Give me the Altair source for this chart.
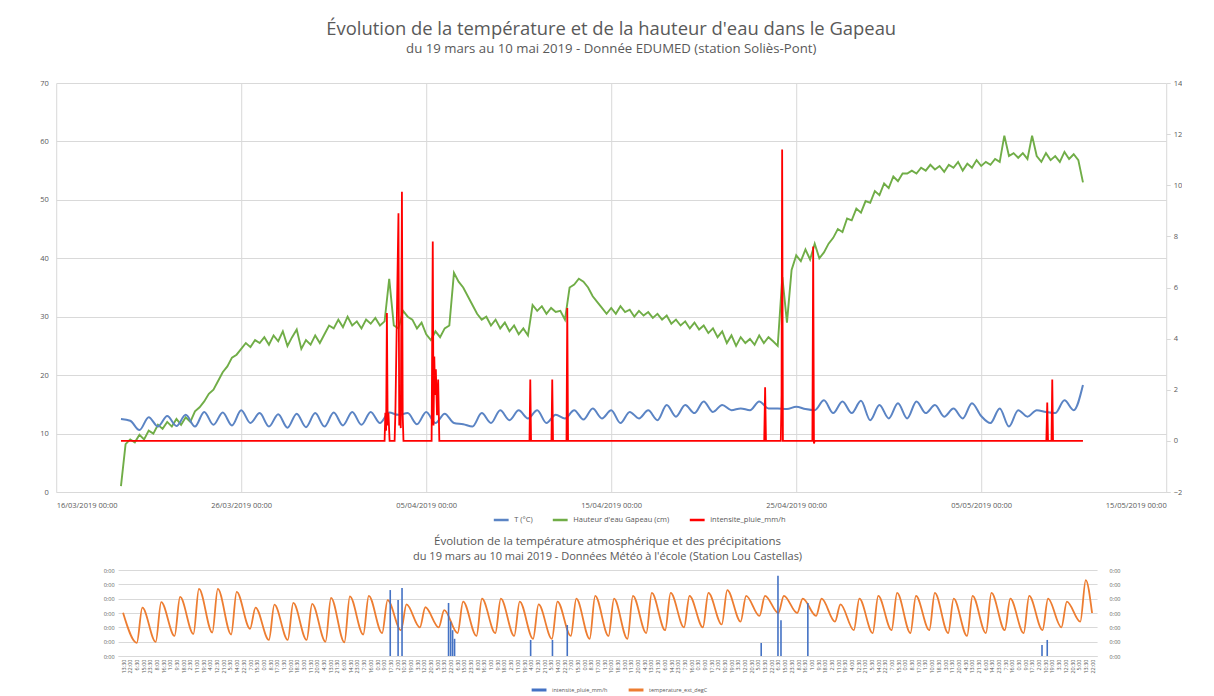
import altair as alt
import pandas as pd

# ------------------------------------------------------------------ texts
TITLE = "Évolution de la température et de la hauteur d'eau dans le Gapeau"
SUBTITLE = "du 19 mars au 10 mai 2019 - Donnée EDUMED (station Soliès-Pont)"
TITLE2 = "Évolution de la température atmosphérique et des précipitations"
SUBTITLE2 = "du 19 mars au 10 mai 2019 - Données Météo à l'école (Station Lou Castellas)"

SER_TOP = ["T (°C)", "Hauteur d'eau Gapeau (cm)", "intensite_pluie_mm/h"]
SER_BOT = ["intensite_pluie_mm/h", "temperature_ext_degC"]

# x ticks of the upper chart (month, day)
X_TICKS = [(3, 16), (3, 26), (4, 5), (4, 15), (4, 25), (5, 5), (5, 15)]
Y_LEFT_TICKS = [0, 10, 20, 30, 40, 50, 60, 70]
Y_RIGHT_TICKS = [-2, 0, 2, 4, 6, 8, 10, 12, 14]

# ------------------------------------------------------------------ upper chart data
# water height (cm), one reading every 6 h from 19/03 12:00
WATER_START = "2019-03-19 12:00"
water = [
    1.0, 8.2,
    9.0, 8.5, 9.8, 9.0,
    10.5, 10.0, 11.5, 10.8,
    12.0, 11.2, 12.5, 11.5,
    12.8, 12.0, 13.8, 14.5,
    15.5, 16.8, 17.5, 19.0,
    20.5, 21.5, 23.0, 23.5,
    24.5, 25.5, 24.8, 26.0,
    25.5, 26.5, 25.2, 26.8,
    25.8, 27.5, 25.0, 26.5,
    27.8, 24.5, 26.0, 25.2,
    26.8, 25.5, 27.0, 28.5,
    28.0, 29.5, 28.2, 30.0,
    28.5, 29.2, 28.0, 29.5,
    28.8, 29.8, 28.5, 29.2,
    36.5, 28.5, 28.0, 31.0,
    30.0, 29.5, 28.0, 29.0,
    27.0, 26.0, 27.5, 26.5,
    28.0, 28.5, 37.5, 36.0,
    35.0, 33.5, 32.0, 30.5,
    29.5, 30.0, 28.5, 29.5,
    28.0, 29.0, 27.5, 28.5,
    27.0, 28.0, 26.8, 32.0,
    31.0, 31.8, 30.5, 31.5,
    30.8, 31.0, 29.5, 35.0,
    35.5, 36.5, 36.0, 35.0,
    33.5, 32.5, 31.5, 30.5,
    31.5, 30.5, 31.8, 30.8,
    31.2, 30.0, 31.0, 30.2,
    30.8, 29.8, 30.5, 29.5,
    30.2, 28.8, 29.5, 28.5,
    29.2, 28.0, 29.0, 27.8,
    28.5, 27.2, 28.0, 26.5,
    27.5, 25.5, 26.8, 25.0,
    26.5, 25.5, 26.2, 25.2,
    26.8, 25.5, 26.5, 25.8,
    25.0, 36.8, 29.0, 38.0,
    40.5, 39.5, 41.5, 39.8,
    42.5, 40.0, 41.0, 42.5,
    43.5, 45.0, 44.5, 46.8,
    46.5, 48.5, 47.8, 49.8,
    49.5, 51.5, 50.8, 52.8,
    52.0, 54.0, 53.2, 54.5,
    54.5, 55.0, 54.5, 55.5,
    55.0, 56.0, 55.2, 55.8,
    54.8, 56.0, 55.5, 56.5,
    55.0, 56.2, 55.5, 56.8,
    55.8, 56.5, 56.0, 57.0,
    56.5, 61.0, 57.5, 58.0,
    57.2, 58.0, 57.0, 61.0,
    57.5, 56.5, 58.0, 56.8,
    57.5, 56.5, 58.2, 57.0,
    57.8, 56.8, 53.0,
]

# water temperature (°C), one reading every 12 h from 19/03 12:00
TEMP_START = "2019-03-19 12:00"
temp = [
    12.5, 12.2, 10.6, 12.8, 11.2, 13.0, 11.3, 13.2, 11.2, 13.7,
    11.5, 13.6, 11.4, 14.0, 11.8, 13.5, 11.2, 13.3, 11.0, 13.4,
    11.1, 13.5, 11.2, 13.6, 11.4, 13.7, 11.5, 13.7, 11.8, 13.6,
    13.2, 13.5, 11.6, 13.7, 11.8, 13.4, 11.8, 11.6, 11.2, 13.5,
    11.8, 14.0, 12.3, 14.0, 12.6, 14.0, 11.8, 13.2, 12.6, 14.0,
    12.4, 14.3, 12.6, 14.0, 11.8, 13.7, 12.6, 14.0, 12.3, 14.9,
    12.9, 14.9, 13.5, 15.5, 13.7, 14.9, 14.0, 14.3, 14.0, 15.5,
    14.3, 14.3, 14.2, 14.6, 14.2, 14.0, 15.7, 13.5, 15.5, 13.5,
    15.6, 12.3, 14.9, 12.6, 15.2, 12.6, 15.5, 13.5, 14.9, 12.9,
    14.3, 12.6, 15.2, 13.0, 11.8, 14.3, 11.2, 14.0, 12.9, 14.0,
    13.7, 13.5, 15.7, 14.0, 18.3,
]

# rain intensity (mm/h)
rain_times = [
    "2019-03-19 12:00",
    "2019-04-02 18:00", "2019-04-02 19:00", "2019-04-02 20:00", "2019-04-02 21:00",
    "2019-04-02 22:00", "2019-04-02 23:00", "2019-04-03 00:30",
    "2019-04-03 07:00", "2019-04-03 08:00", "2019-04-03 12:00", "2019-04-03 13:00",
    "2019-04-03 14:00", "2019-04-03 15:00", "2019-04-03 16:30", "2019-04-03 17:30",
    "2019-04-03 18:30",
    "2019-04-05 07:00", "2019-04-05 08:30", "2019-04-05 09:30", "2019-04-05 10:30",
    "2019-04-05 11:30", "2019-04-05 12:30", "2019-04-05 14:00", "2019-04-05 15:30",
    "2019-04-05 17:00",
    "2019-04-10 14:00", "2019-04-10 15:00", "2019-04-10 16:00",
    "2019-04-11 18:30", "2019-04-11 19:30", "2019-04-11 20:30",
    "2019-04-12 14:00", "2019-04-12 15:00", "2019-04-12 16:00",
    "2019-04-23 06:30", "2019-04-23 07:40", "2019-04-23 08:45",
    "2019-04-24 04:00", "2019-04-24 05:00", "2019-04-24 05:45", "2019-04-24 06:45",
    "2019-04-25 21:00", "2019-04-25 22:00", "2019-04-25 23:00", "2019-04-26 00:00",
    "2019-05-08 12:30", "2019-05-08 13:40", "2019-05-08 14:40",
    "2019-05-08 19:10", "2019-05-08 20:10", "2019-05-08 21:10",
    "2019-05-10 12:00",
]
rain_vals = [
    0,
    0, 1.1, 0.4, 5.0, 0.6, 1.1, 0,
    0, 1.1, 8.9, 0.6, 1.2, 0.5, 9.75, 1.0, 0,
    0, 7.8, 0.6, 3.3, 1.8, 2.8, 1.0, 2.4, 0,
    0, 2.4, 0,
    0, 2.4, 0,
    0, 5.2, 0,
    0, 2.1, 0,
    0, 1.8, 11.4, 0,
    0, 7.6, -0.1, 0,
    0, 1.5, 0,
    0, 2.4, 0,
    0,
]

# ------------------------------------------------------------------ lower chart data
AIR_START = ("2019-03-19 13:30", 15.1)
AIR_END = ("2019-05-09 22:00", 15.0)
AIR_FIRST_DAY = "2019-03-20"
# daily minimum (about 07:00) and maximum (about 14:00), 20/03 -> 09/05
air_min = [
    4.6, 4.9, 7.0, 7.7, 8.2, 7.5, 9.5, 5.6, 5.6, 5.6, 5.0, 4.8,
    7.5, 8.0, 9.0, 10.0, 10.0, 8.0, 7.0, 8.0, 7.0, 6.0, 6.0, 7.0, 6.0, 7.0, 6.0,
    8.0, 9.0, 10.0, 10.0, 11.0, 12.0, 14.0, 15.0, 15.0, 14.0, 12.0, 9.0, 8.0, 9.0, 8.0,
    9.0, 8.0, 7.0, 8.0, 9.0, 8.0, 9.0, 10.0, 12.0,
]
air_max = [
    16.9, 18.8, 20.6, 23.4, 23.4, 22.4, 16.9, 17.9, 18.5, 18.2, 20.3, 20.8,
    21.0, 19.5, 18.0, 17.0, 16.0, 19.0, 20.0, 20.0, 19.0, 18.0, 19.0, 20.0, 21.0, 20.0, 21.0,
    22.0, 22.0, 21.0, 22.0, 23.0, 21.0, 21.0, 21.0, 20.0, 20.0, 18.0, 20.0, 21.0, 22.0, 21.0,
    22.0, 20.0, 21.0, 22.0, 20.0, 21.0, 20.0, 19.0, 26.5,
]
bar_times = [
    "2019-04-02 17:20", "2019-04-03 03:20", "2019-04-03 08:20",
    "2019-04-05 19:30", "2019-04-05 22:10", "2019-04-06 00:40", "2019-04-06 03:10",
    "2019-04-10 03:55", "2019-04-11 07:40", "2019-04-12 02:30",
    "2019-04-22 09:10", "2019-04-23 06:30", "2019-04-23 10:20", "2019-04-24 20:30",
    "2019-05-07 06:20", "2019-05-07 13:00",
]
bar_vals = [23, 19.5, 23.7, 18.5, 12, 9, 6, 5.6, 5.6, 10.8, 4.5, 28, 12.5, 18.5, 3.8, 5.6]
BOT_TICK_STEP = "510min"

# ------------------------------------------------------------------ styling
GRID = "#d9d9d9"
LAB = "#595959"
FONT = "Open Sans"
C_TEMP, C_WATER, C_RAIN = "#5b84c4", "#70ad47", "#ff0000"
C_BAR, C_AIR = "#4472c4", "#ed7d31"


def iso(ts):
    return pd.Timestamp(ts).strftime("%Y-%m-%dT%H:%M:%S")


def dt(ts):
    t = pd.Timestamp(ts)
    return alt.DateTime(year=t.year, month=t.month, date=t.day, hours=t.hour, minutes=t.minute)


# ------------------------------------------------------------------ frames
wt = pd.date_range(WATER_START, periods=len(water), freq="6h")
df_water = pd.DataFrame({"t": [iso(x) for x in wt], "v": water, "s": SER_TOP[1]})
tt = pd.date_range(TEMP_START, periods=len(temp), freq="12h")
df_temp = pd.DataFrame({"t": [iso(x) for x in tt], "v": temp, "s": SER_TOP[0]})
df_rain = pd.DataFrame({"t": [iso(x) for x in rain_times], "v": rain_vals, "s": SER_TOP[2]})

air_t, air_v = [iso(AIR_START[0])], [AIR_START[1]]
for i, d in enumerate(pd.date_range(AIR_FIRST_DAY, periods=len(air_min), freq="D")):
    air_t += [iso(d + pd.Timedelta(hours=7)), iso(d + pd.Timedelta(hours=14))]
    air_v += [air_min[i], air_max[i]]
air_t.append(iso(AIR_END[0]))
air_v.append(AIR_END[1])
df_air = pd.DataFrame({"t": air_t, "v": air_v, "s": SER_BOT[1]})
df_bar = pd.DataFrame({"t": [iso(x) for x in bar_times], "v": bar_vals, "s": SER_BOT[0]})

# ------------------------------------------------------------------ upper chart
x_top = alt.X(
    "t:T", title=None,
    scale=alt.Scale(domain=[dt("2019-03-16"), dt("2019-05-15")]),
    axis=alt.Axis(values=[alt.DateTime(year=2019, month=m, date=d) for m, d in X_TICKS],
                  format="%d/%m/%Y %H:%M", grid=True, gridColor=GRID, domainColor=GRID,
                  ticks=False, labelFontSize=7.5, labelColor=LAB, labelPadding=9,
                  labelOverlap=False),
)
y_left = alt.Y(
    "v:Q", title=None, scale=alt.Scale(domain=[0, 70], nice=False),
    axis=alt.Axis(values=Y_LEFT_TICKS, grid=True, gridColor=GRID, domain=False, ticks=False,
                  labelFontSize=7.5, labelColor=LAB, labelPadding=8),
)
y_right = alt.Y(
    "v:Q", title=None, scale=alt.Scale(domain=[-2, 14], nice=False),
    axis=alt.Axis(orient="right", values=Y_RIGHT_TICKS, grid=False, domain=False, ticks=True,
                  tickColor=GRID, tickSize=4, labelFontSize=7.5, labelColor=LAB, labelPadding=3),
)
color_top = alt.Color(
    "s:N",
    scale=alt.Scale(domain=SER_TOP, range=[C_TEMP, C_WATER, C_RAIN]),
    legend=alt.Legend(title=None, orient="none", legendX=436, legendY=428, direction="horizontal",
                      symbolType="stroke", symbolStrokeWidth=2.5, symbolSize=220,
                      labelFontSize=7.5, labelColor=LAB, columnPadding=14, labelLimit=300),
)

water_line = alt.Chart(df_water).mark_line(strokeWidth=1.9).encode(x=x_top, y=y_left, color=color_top)
temp_line = alt.Chart(df_temp).mark_line(strokeWidth=2, interpolate="monotone").encode(
    x=x_top, y=y_left, color=color_top)
rain_line = alt.Chart(df_rain).mark_line(strokeWidth=1.8).encode(x=x_top, y=y_right, color=color_top)

top = alt.layer(alt.layer(water_line, temp_line), rain_line).resolve_scale(y="independent").properties(
    width=1110, height=409,
    title=alt.TitleParams(text=TITLE, subtitle=SUBTITLE, fontSize=18.4, subtitleFontSize=13.2,
                          font=FONT, subtitleFont=FONT, fontWeight="normal", color=LAB,
                          subtitleColor=LAB, anchor="middle", frame="group", offset=24,
                          subtitlePadding=4),
)

# ------------------------------------------------------------------ lower chart
bot_ticks = pd.date_range(AIR_START[0], AIR_END[0], freq=BOT_TICK_STEP)
x_bot = alt.X(
    "t:T", title=None,
    scale=alt.Scale(domain=[dt(AIR_START[0]), dt(AIR_END[0])]),
    axis=alt.Axis(values=[dt(x) for x in bot_ticks], format="%-H:%M", labelAngle=270,
                  grid=False, domainColor=GRID, ticks=False, labelFontSize=5.5,
                  labelColor=LAB, labelPadding=3, labelOverlap=False),
)
yb_left = alt.Y(
    "v:Q", title=None, scale=alt.Scale(domain=[0, 30], nice=False),
    axis=alt.Axis(values=[0, 5, 10, 15, 20, 25, 30], labelExpr="'0:00'", grid=True, gridColor=GRID,
                  domain=False, ticks=False, labelFontSize=5.5, labelColor=LAB, labelPadding=4),
)
yb_right = alt.Y(
    "v:Q", title=None, scale=alt.Scale(domain=[0, 30], nice=False),
    axis=alt.Axis(orient="right", values=[0, 5, 10, 15, 20, 25, 30], labelExpr="'0:00'", grid=False,
                  domain=False, ticks=False, labelFontSize=5.5, labelColor=LAB, labelPadding=12),
)
color_bot = alt.Color(
    "s:N",
    scale=alt.Scale(domain=SER_BOT, range=[C_BAR, C_AIR]),
    legend=alt.Legend(title=None, orient="none", legendX=412, legendY=111, direction="horizontal",
                      symbolType="stroke", symbolStrokeWidth=3, symbolSize=220,
                      labelFontSize=5.5, labelColor=LAB, columnPadding=14, labelLimit=300),
)
bars = alt.Chart(df_bar).mark_bar(width=1.6).encode(x=x_bot, y=yb_right, color=color_bot)
air = alt.Chart(df_air).mark_line(strokeWidth=1.8, interpolate="monotone").encode(
    x=x_bot, y=yb_left, color=color_bot)

bottom = alt.layer(air, bars).resolve_scale(y="independent").properties(
    width=979, height=86,
    title=alt.TitleParams(text=TITLE2, subtitle=SUBTITLE2, fontSize=11.5, subtitleFontSize=11,
                          font=FONT, subtitleFont=FONT, fontWeight="normal", color=LAB,
                          subtitleColor=LAB, anchor="middle", frame="group", offset=6,
                          subtitlePadding=4),
)

chart = alt.vconcat(top, bottom, spacing=10, center=True).resolve_scale(color="independent").properties(
    padding={"left": 31, "right": 0, "top": 12, "bottom": 0}
).configure(font=FONT).configure_view(stroke=None)

chart.save("out.html", embed_options={"renderer": "svg", "actions": False})
